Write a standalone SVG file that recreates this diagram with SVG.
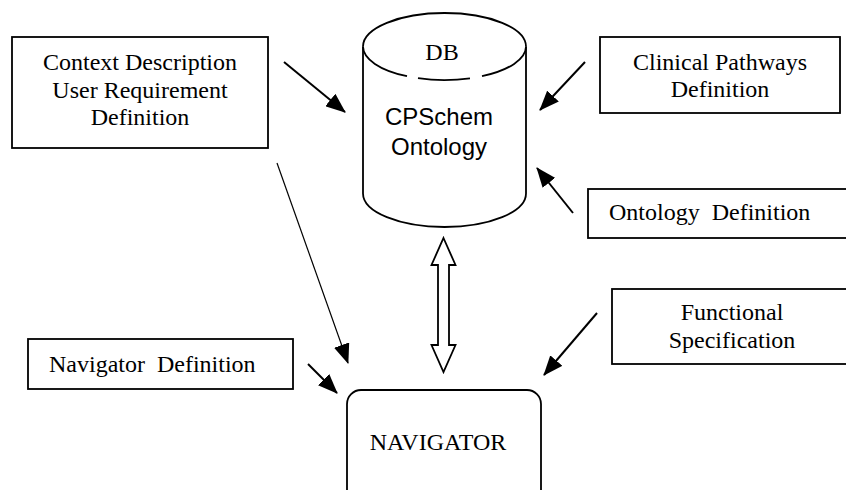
<svg xmlns="http://www.w3.org/2000/svg" width="846" height="490" viewBox="0 0 846 490">
<style>
.box{fill:#fff;stroke:#000;stroke-width:1.8}
.cyl{fill:none;stroke:#000;stroke-width:1.8}
.serif{font-family:"Liberation Serif","Times New Roman",serif;font-size:24px;fill:#000}
.sans{font-family:"Liberation Sans",Arial,sans-serif;font-size:24px;fill:#000}
.mid{text-anchor:middle}
.pre{white-space:pre}
.arr{stroke:#000;stroke-width:2;fill:none}
.thin{stroke:#000;stroke-width:1.2;fill:none}
.dbl{fill:#fff;stroke:#000;stroke-width:1.8;stroke-linejoin:miter}
</style>
<defs>
<marker id="ah" markerUnits="userSpaceOnUse" markerWidth="20" markerHeight="16" viewBox="0 0 20 16" refX="19" refY="8" orient="auto">
<path d="M0,0 L20,8 L0,16 Z" fill="#000"/>
</marker>
</defs>
<rect width="846" height="490" fill="#fff"/>
<g id="context">
<rect class="box" x="12" y="37" width="256" height="111"/>
<text class="serif mid" x="140" y="70">Context Description</text>
<text class="serif mid" x="140" y="98">User Requirement</text>
<text class="serif mid" x="140" y="125">Definition</text>
</g>
<g id="db">
<path class="cyl" d="M363,46.5 A81.5,33.5 0 0 1 526,46.5"/>
<path class="cyl" d="M526,46.5 A81.5,33.5 0 0 1 482,76.2"/>
<path class="cyl" d="M470,78.3 A81.5,33.5 0 0 1 418,78.2"/>
<path class="cyl" d="M407,76.2 A81.5,33.5 0 0 1 363,46.5"/>
<path class="cyl" d="M363,46.5 L363,193.5 A81.5,33.5 0 0 0 526,193.5 L526,46.5"/>
<text class="serif mid" x="442" y="60">DB</text>
<text class="sans mid" x="439" y="125">CPSchem</text>
<text class="sans mid" x="439" y="155">Ontology</text>
</g>
<g id="clinical">
<rect class="box" x="600" y="37" width="240" height="76"/>
<text class="serif mid" x="720" y="70">Clinical Pathways</text>
<text class="serif mid" x="720" y="97">Definition</text>
</g>
<g id="ontology-def">
<rect class="box" x="588" y="189" width="270" height="49"/>
<text class="serif pre" x="609" y="220">Ontology  Definition</text>
</g>
<g id="functional">
<rect class="box" x="612" y="289" width="246" height="75"/>
<text class="serif mid" x="732" y="320">Functional</text>
<text class="serif mid" x="732" y="348">Specification</text>
</g>
<g id="navigator-def">
<rect class="box" x="28" y="339" width="265" height="50"/>
<text class="serif pre" x="49" y="372">Navigator  Definition</text>
</g>
<g id="navigator">
<rect class="box" x="347" y="390" width="194" height="130" rx="14" ry="14"/>
<text class="serif mid" x="438" y="450">NAVIGATOR</text>
</g>
<g id="connectors">
<line class="arr" x1="284" y1="62" x2="345" y2="112" marker-end="url(#ah)"/>
<line class="arr" x1="585" y1="62" x2="540" y2="110" marker-end="url(#ah)"/>
<line class="arr" x1="573" y1="213" x2="537" y2="168" marker-end="url(#ah)"/>
<line class="arr" x1="597" y1="313" x2="544" y2="375" marker-end="url(#ah)"/>
<line class="arr" x1="308" y1="364" x2="337" y2="393" marker-end="url(#ah)"/>
<line class="thin" x1="277" y1="163" x2="348" y2="363" marker-end="url(#ah)"/>
<path class="dbl" d="M443.5,238 L455.5,265 L449,265 L449,345 L455.5,345 L443.5,372 L431.5,345 L438,345 L438,265 L431.5,265 Z"/>
</g>
</svg>
